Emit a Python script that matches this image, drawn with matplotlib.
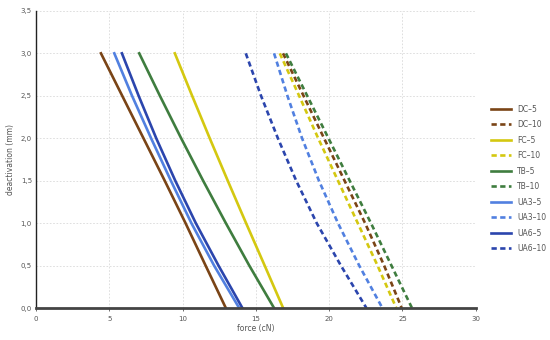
import numpy as np
import matplotlib.pyplot as plt
from matplotlib.ticker import FuncFormatter

# deactivation steps (mm)
deact = [3.0, 2.5, 2.0, 1.5, 1.0, 0.5, 0.0]

# force (cN) per series, read at each deactivation step
dc5 = [4.43, 5.88, 7.33, 8.78, 10.20, 11.57, 12.95]
dc10 = [16.85, 18.25, 19.65, 21.05, 22.45, 23.75, 24.95]
fc5 = [9.47, 10.65, 11.85, 13.08, 14.33, 15.60, 16.86]
fc10 = [16.63, 17.95, 19.25, 20.60, 21.95, 23.30, 24.58]
tb5 = [7.04, 8.45, 9.90, 11.40, 12.95, 14.55, 16.24]
tb10 = [17.05, 18.50, 19.95, 21.40, 22.85, 24.25, 25.65]
ua3_5 = [5.34, 6.55, 7.85, 9.20, 10.60, 12.15, 13.86]
ua3_10 = [16.24, 17.15, 18.15, 19.30, 20.60, 22.05, 23.63]
ua6_5 = [5.86, 7.00, 8.20, 9.50, 10.90, 12.45, 14.08]
ua6_10 = [14.31, 15.35, 16.50, 17.75, 19.15, 20.80, 22.54]

series = [
    ('DC\u20135', dc5, '#7a4416', '-'),
    ('DC\u201310', dc10, '#7a4416', '--'),
    ('FC\u20135', fc5, '#d4c810', '-'),
    ('FC\u201310', fc10, '#d4c810', '--'),
    ('TB\u20135', tb5, '#3f7d3f', '-'),
    ('TB\u201310', tb10, '#3f7d3f', '--'),
    ('UA3\u20135', ua3_5, '#5180e0', '-'),
    ('UA3\u201310', ua3_10, '#5180e0', '--'),
    ('UA6\u20135', ua6_5, '#2b45ad', '-'),
    ('UA6\u201310', ua6_10, '#2b45ad', '--'),
]

plt.rcParams['font.family'] = ['DejaVu Sans']
fig = plt.figure(figsize=(5.5, 3.4), dpi=100)
ax = fig.add_axes([0.0655, 0.094, 0.7995, 0.874])

for name, vals, col, ls in series:
    if ls == '--':
        ax.plot(vals, deact, ls, color=col, lw=1.9, dashes=(2.0, 1.3), label=name,
                solid_joinstyle='round')
    else:
        ax.plot(vals, deact, ls, color=col, lw=1.9, label=name, solid_joinstyle='round')

ax.set_xlim(0, 30)
ax.set_ylim(0, 3.5)
ax.set_xticks(np.arange(0, 31, 5))
ax.set_yticks(np.arange(0, 3.51, 0.5))
ax.yaxis.set_major_formatter(FuncFormatter(lambda v, p: ('%.1f' % v).replace('.', ',')))
ax.grid(True, color='#d9d9d9', ls=(0, (2, 2)), lw=0.6)
ax.set_axisbelow(True)

for s in ['top', 'right']:
    ax.spines[s].set_visible(False)
ax.spines['left'].set_color('#222222')
ax.spines['left'].set_linewidth(1.0)
ax.spines['bottom'].set_color('#444444')
ax.spines['bottom'].set_linewidth(2.0)

ax.tick_params(axis='both', labelsize=5, colors='#555555', length=2, width=0.6)
ax.tick_params(axis='y', length=0, pad=3)
ax.set_xlabel('force (cN)', fontsize=5.5, color='#555555', labelpad=2)
ax.set_ylabel('deactivation (mm)', fontsize=5.5, color='#555555', labelpad=4)

ax.legend(loc='center left', bbox_to_anchor=(1.02, 0.435), frameon=False,
          fontsize=5.5, labelcolor='#555555', handlelength=2.6, labelspacing=0.85,
          handletextpad=0.8)

fig.savefig('out.png', dpi=100)
